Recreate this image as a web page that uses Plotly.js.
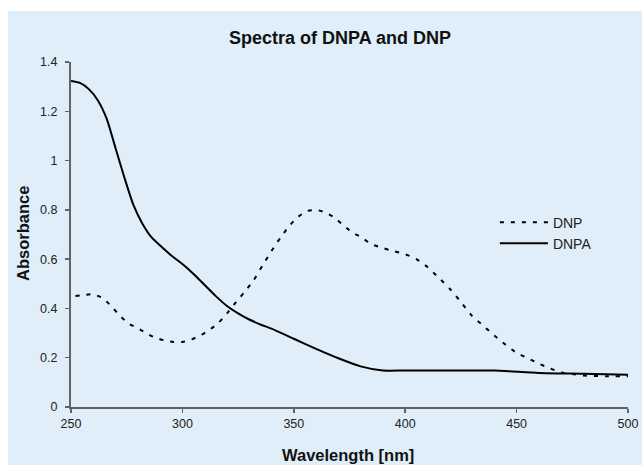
<!DOCTYPE html>
<html>
<head>
<meta charset="utf-8">
<script src="https://cdn.plot.ly/plotly-3.0.1.min.js"></script>
<style>html,body{margin:0;padding:0;background:#fff;}#chart{width:642px;height:465px;}</style>
</head>
<body>
<div id="chart"></div>
<script>
// ---- data ----
const seriesNames = ["DNP", "DNPA"];

const dnpWavelength = [252, 256, 260, 264, 268, 272, 276, 280, 284, 288, 292, 296, 300, 304, 308, 312, 316, 320, 324, 328, 332, 336, 340, 344, 348, 352, 356, 360, 364, 368, 372, 376, 380, 385, 390, 395, 400, 405, 410, 415, 420, 425, 430, 435, 440, 445, 450, 455, 460, 465, 470, 475, 480, 490, 500];
const dnpAbsorbance = [0.450, 0.455, 0.457, 0.443, 0.410, 0.370, 0.338, 0.320, 0.298, 0.281, 0.270, 0.264, 0.264, 0.274, 0.290, 0.312, 0.340, 0.380, 0.425, 0.468, 0.515, 0.575, 0.633, 0.687, 0.735, 0.772, 0.795, 0.800, 0.790, 0.770, 0.740, 0.710, 0.690, 0.660, 0.645, 0.632, 0.620, 0.600, 0.568, 0.525, 0.480, 0.426, 0.370, 0.330, 0.290, 0.253, 0.220, 0.198, 0.176, 0.157, 0.140, 0.134, 0.128, 0.125, 0.125];

const dnpaWavelength = [250, 254, 258, 262, 266, 270, 274, 278, 282, 286, 290, 295, 300, 305, 310, 315, 320, 325, 330, 335, 340, 350, 360, 370, 380, 390, 400, 420, 440, 460, 480, 500];
const dnpaAbsorbance = [1.323, 1.315, 1.290, 1.245, 1.170, 1.050, 0.930, 0.820, 0.745, 0.690, 0.655, 0.615, 0.580, 0.540, 0.495, 0.450, 0.410, 0.380, 0.355, 0.335, 0.318, 0.277, 0.236, 0.198, 0.165, 0.148, 0.148, 0.148, 0.148, 0.138, 0.135, 0.131];

const xTickVals = [250, 300, 350, 400, 450, 500];
const xTickText = ["250", "300", "350", "400", "450", "500"];
const yTickVals = [0, 0.2, 0.4, 0.6, 0.8, 1, 1.2, 1.4];
const yTickText = ["0", "0.2", "0.4", "0.6", "0.8", "1", "1.2", "1.4"];

const chartTitle = "Spectra of DNPA and DNP";
const xTitle = "Wavelength [nm]";
const yTitle = "Absorbance";

// ---- chart ----
const FONT = "Arial, 'Liberation Sans', sans-serif";
const AXIS_COLOR = "#5f6368";

const traces = [
  {
    x: dnpWavelength, y: dnpAbsorbance, name: seriesNames[0],
    type: "scatter", mode: "lines",
    line: {color: "#000000", width: 2, dash: "4px,7px", shape: "spline", smoothing: 0.6}
  },
  {
    x: dnpaWavelength, y: dnpaAbsorbance, name: seriesNames[1],
    type: "scatter", mode: "lines",
    line: {color: "#000000", width: 2, shape: "spline", smoothing: 0.6}
  }
];

const layout = {
  width: 642, height: 465,
  margin: {l: 71, r: 14, t: 62, b: 58, pad: 0},
  paper_bgcolor: "#ffffff",
  plot_bgcolor: "rgba(0,0,0,0)",
  font: {family: FONT, size: 12, color: "#222222"},
  showlegend: true,
  title: {
    text: "<b>" + chartTitle + "</b>",
    font: {family: FONT, size: 18, color: "#111111"},
    xref: "container", x: 340 / 642, xanchor: "center",
    yref: "container", y: 1 - 38 / 465, yanchor: "middle"
  },
  xaxis: {
    range: [250, 500],
    tickmode: "array", tickvals: xTickVals, ticktext: xTickText,
    ticks: "outside", ticklen: 4, tickwidth: 1.5, tickcolor: AXIS_COLOR,
    showline: true, linecolor: AXIS_COLOR, linewidth: 2,
    showgrid: false, zeroline: false,
    tickfont: {family: FONT, size: 12.5, color: "#222222"}
  },
  yaxis: {
    range: [0, 1.4],
    tickmode: "array", tickvals: yTickVals, ticktext: yTickText,
    ticks: "outside", ticklen: 4, tickwidth: 1.5, tickcolor: AXIS_COLOR,
    showline: true, linecolor: AXIS_COLOR, linewidth: 2,
    showgrid: false, zeroline: false,
    ticklabelstandoff: 5,
    tickfont: {family: FONT, size: 12.5, color: "#222222"}
  },
  legend: {
    x: 0.761, xanchor: "left", y: 0.581, yanchor: "top",
    bgcolor: "rgba(0,0,0,0)", borderwidth: 0,
    itemwidth: 48,
    font: {family: FONT, size: 14, color: "#222222"},
    tracegroupgap: 0
  },
  shapes: [
    {type: "rect", xref: "paper", yref: "paper", layer: "below",
     x0: -0.1131, x1: 1.03, y0: -0.17, y1: 1.148,
     fillcolor: "#dfeef9", line: {width: 0}}
  ],
  annotations: [
    {text: "<b>" + xTitle + "</b>", xref: "paper", yref: "paper",
     x: (348 - 71) / 557, y: (407 - 455) / 345, xanchor: "center", yanchor: "middle", showarrow: false,
     font: {family: FONT, size: 16.5, color: "#111111"}},
    {text: "<b>" + yTitle + "</b>", xref: "paper", yref: "paper",
     x: (23 - 71) / 557, y: (407 - 234) / 345, xanchor: "center", yanchor: "middle", showarrow: false,
     textangle: -90,
     font: {family: FONT, size: 16.5, color: "#111111"}}
  ]
};

Plotly.newPlot("chart", traces, layout, {displayModeBar: false, staticPlot: true});
</script>
</body>
</html>
